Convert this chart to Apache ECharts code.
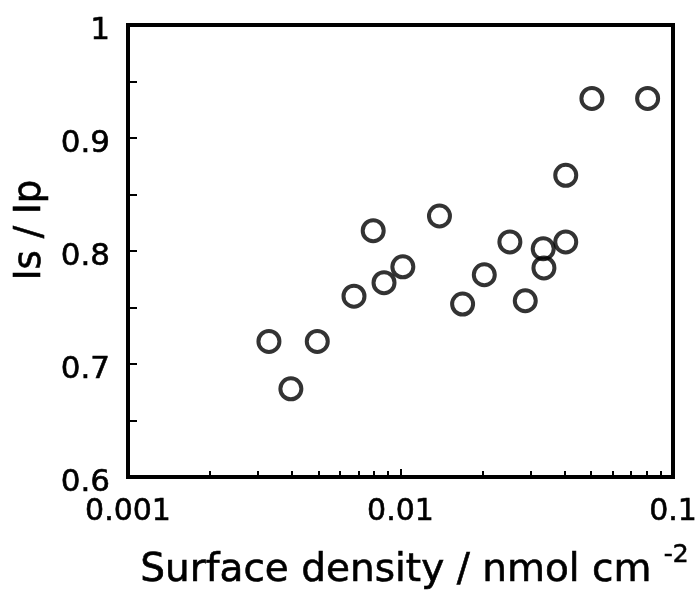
<!DOCTYPE html>
<html>
<head>
<meta charset="utf-8">
<script src="https://cdn.jsdelivr.net/npm/echarts@6/dist/echarts.min.js"></script>
<style>
  html, body { margin: 0; padding: 0; background: #fff; }
  #chart { width: 698px; height: 592px; }
</style>
</head>
<body>
<div id="chart"></div>
<script>
// Surface density (nmol cm^-2) and the corresponding Is/Ip ratio
const surfaceDensity = [0.00329, 0.00396, 0.00495, 0.00675, 0.00794, 0.0087, 0.0102, 0.0139, 0.0169,
                        0.0203, 0.0252, 0.0287, 0.0334, 0.0336, 0.0404, 0.0404, 0.0504, 0.0807];
const ratio = [0.720, 0.678, 0.720, 0.760, 0.818, 0.772, 0.786, 0.831, 0.753,
               0.779, 0.808, 0.756, 0.802, 0.785, 0.808, 0.867, 0.935, 0.935];

// Axis ranges and minor log ticks
const xRange = [0.001, 0.1];
const yRange = [0.6, 1];
const xMinorTicks = [0.002, 0.003, 0.004, 0.005, 0.006, 0.007, 0.008, 0.009,
                     0.02, 0.03, 0.04, 0.05, 0.06, 0.07, 0.08, 0.09];

const points = surfaceDensity.map((x, i) => [x, ratio[i]]);

const FONT = '"DejaVu Sans", "Liberation Sans", Arial, sans-serif';
const INK = { color: '#000', textBorderColor: '#000', textBorderWidth: 0.6 };
const chart = echarts.init(document.getElementById('chart'), null, { renderer: 'canvas' });

chart.setOption({
  backgroundColor: '#fff',
  animation: false,
  grid: {
    left: 128, right: 25, top: 25, bottom: 115,
    containLabel: false, outerBoundsMode: 'none',
    show: true, borderColor: '#000', borderWidth: 4, backgroundColor: 'transparent'
  },
  xAxis: [
    {
      type: 'log', logBase: 10, min: xRange[0], max: xRange[1],
      position: 'bottom',
      axisLine: { show: true, lineStyle: { color: '#000', width: 4 } },
      axisTick: { show: true, inside: true, length: 8, lineStyle: { color: '#000', width: 2 } },
      minorTick: { show: false },
      splitLine: { show: false },
      axisLabel: Object.assign({
        fontFamily: FONT, fontSize: 30, margin: 20,
        formatter: v => String(Number(v.toPrecision(3)))
      }, INK),
      name: 'Surface density / nmol cm {sup|-2}',
      nameLocation: 'middle',
      nameGap: 66,
      nameTextStyle: Object.assign({
        fontFamily: FONT, fontSize: 39, padding: [0, 0, 0, 28],
        rich: { sup: Object.assign({ fontFamily: FONT, fontSize: 25, verticalAlign: 'top', padding: [0, 0, 30, 0] }, INK) }
      }, INK)
    },
    {
      type: 'log', logBase: 10, min: xRange[0], max: xRange[1],
      position: 'bottom',
      axisLine: { show: false },
      axisTick: { show: true, inside: true, length: 6, customValues: xMinorTicks, lineStyle: { color: '#000', width: 2 } },
      axisLabel: { show: false },
      splitLine: { show: false }
    }
  ],
  yAxis: {
    type: 'value', min: yRange[0], max: yRange[1], interval: 0.1,
    axisLine: { show: true, lineStyle: { color: '#000', width: 4 } },
    axisTick: { show: true, inside: true, length: 9, lineStyle: { color: '#000', width: 2 } },
    minorTick: { show: true, splitNumber: 2, length: 9, lineStyle: { color: '#000', width: 2 } },
    splitLine: { show: false },
    axisLabel: Object.assign({
      fontFamily: FONT, fontSize: 31, margin: 18,
      formatter: v => '{v|' + String(Number(v.toFixed(2))) + '}',
      rich: { v: Object.assign({ fontFamily: FONT, fontSize: 31, padding: [12, 0, 0, 0] }, INK) }
    }, INK),
    name: 'Is / Ip',
    nameLocation: 'middle',
    nameGap: 76,
    nameTextStyle: Object.assign({ fontFamily: FONT, fontSize: 37, padding: [0, 0, 0, 42] }, INK)
  },
  series: [{
    type: 'scatter',
    xAxisIndex: 0,
    data: points,
    symbol: 'circle',
    symbolSize: 21,
    itemStyle: { color: 'transparent', borderColor: '#000', borderWidth: 4 },
    emphasis: { disabled: true }
  }]
});
</script>
</body>
</html>
